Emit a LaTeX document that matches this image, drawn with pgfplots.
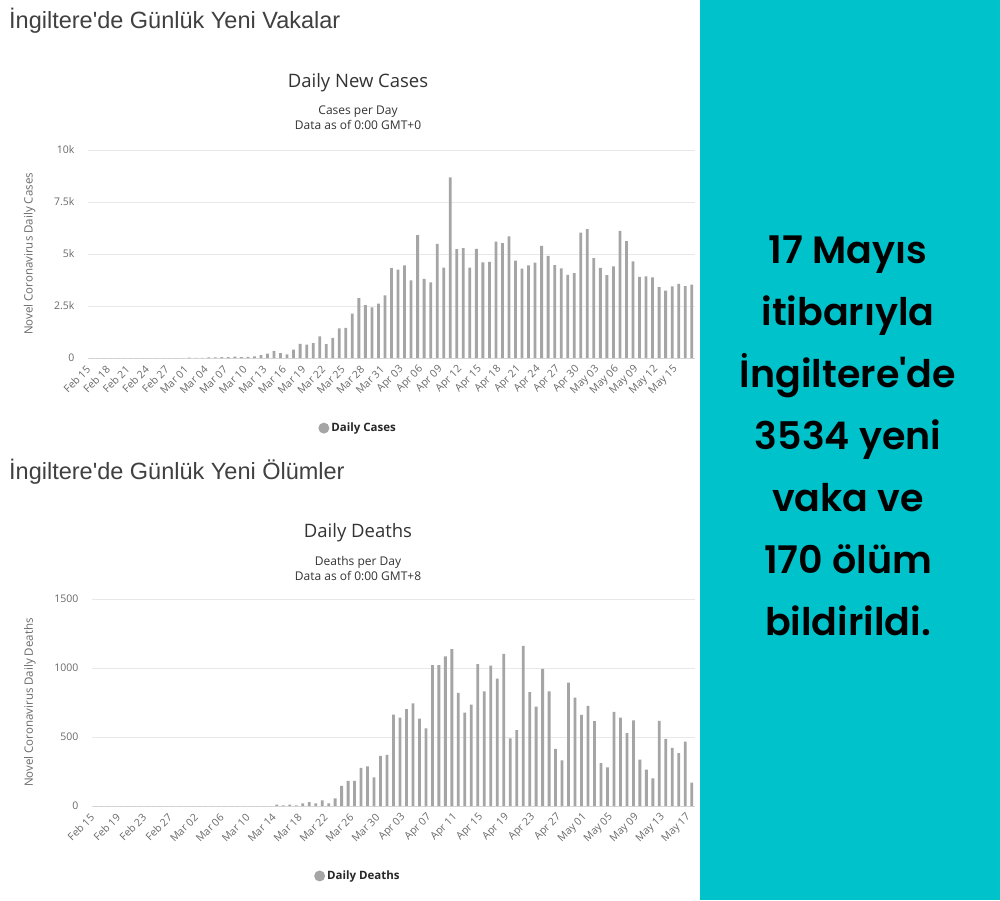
\documentclass[border=0pt]{standalone}
\usepackage{fontspec}
\usepackage{pgfplots}
\pgfplotsset{compat=1.18}
\setmainfont{Open Sans}
\newfontfamily\arialf{Liberation Sans}
\newfontfamily\panelf[UprightFont={* SemiBold}]{Poppins}
\definecolor{barcol}{RGB}{165,165,165}
\definecolor{gridcol}{RGB}{232,232,232}
\definecolor{axiscol}{RGB}{215,215,215}
\definecolor{tickcol}{RGB}{105,105,105}
\definecolor{titlecol}{RGB}{51,51,51}
\definecolor{bigtitle}{RGB}{64,64,64}
\definecolor{legcol}{RGB}{40,40,40}
\definecolor{tealbg}{RGB}{0,194,203}

\pgfplotsset{covstyle/.style={
  scale only axis, xmin=-0.5, xmax=92.5, ymin=0,
  scaled y ticks=false,
  axis x line*=bottom, axis y line*=left,
  y axis line style={draw=none},
  x axis line style={draw=axiscol, line width=0.8pt},
  major tick length=0pt,
  ymajorgrids, grid style={draw=gridcol, line width=0.8pt},
  tick label style={font=\fontsize{10.5}{12}\selectfont, text=tickcol},
  yticklabel style={xshift=-10pt},
  xticklabel style={xshift=-2pt, yshift=-9pt, rotate=45, anchor=east, inner sep=1pt},
  /pgf/number format/assume math mode=true,
  ylabel style={font=\fontsize{11.5}{13}\selectfont, text=tickcol, anchor=center},
  legend style={draw=none, fill=none, font=\bfseries\fontsize{11.5}{13}\selectfont,
    text=legcol, legend cell align=left, anchor=center},
}}

\begin{document}
\begin{tikzpicture}
\useasboundingbox (0pt,0pt) rectangle (1000pt,-900pt);
\fill[white] (0pt,0pt) rectangle (700pt,-900pt);
\fill[tealbg] (700pt,0pt) rectangle (1000pt,-900pt);

% left titles
\node[anchor=base west, font=\arialf\fontsize{23.5}{27}\selectfont, text=bigtitle, inner sep=0pt] at (9pt,-28pt) {İngiltere'de Günlük Yeni Vakalar};
\node[anchor=base west, font=\arialf\fontsize{23.5}{27}\selectfont, text=bigtitle, inner sep=0pt] at (9pt,-479pt) {İngiltere'de Günlük Yeni Ölümler};

\node[anchor=base, font=\fontsize{18.5}{21}\selectfont, text=titlecol, inner sep=0pt] at (358pt,-87pt) {Daily New Cases};
\node[anchor=base, font=\fontsize{12}{14}\selectfont, text=titlecol, inner sep=0pt] at (358pt,-114pt) {Cases per Day};
\node[anchor=base, font=\fontsize{12}{14}\selectfont, text=titlecol, inner sep=0pt] at (358pt,-129pt) {Data as of 0:00 GMT+0};

\node[anchor=base, font=\fontsize{18.5}{21}\selectfont, text=titlecol, inner sep=0pt] at (358pt,-537pt) {Daily Deaths};
\node[anchor=base, font=\fontsize{12}{14}\selectfont, text=titlecol, inner sep=0pt] at (358pt,-565pt) {Deaths per Day};
\node[anchor=base, font=\fontsize{12}{14}\selectfont, text=titlecol, inner sep=0pt] at (358pt,-580pt) {Data as of 0:00 GMT+8};

% right panel text
\foreach \t [count=\i from 0] in {17 Mayıs, itibarıyla, İngiltere'de, 3534 yeni, vaka ve, 170 ölüm, bildirildi.}{
  \node[anchor=base, font=\panelf\fontsize{38}{44}\selectfont, text=black, inner sep=0pt] at (848pt,-263pt-62pt*\i) {\t};
}

% top chart
\begin{axis}[covstyle, at={(88pt,-358pt)}, anchor=south west,
  width=607pt, height=208pt, ymax=10000,
  ytick={0,2500,5000,7500,10000}, yticklabels={0,2.5k,5k,7.5k,10k},
  xtick={0,3,...,90},
  xticklabels={Feb 15,Feb 18,Feb 21,Feb 24,Feb 27,Mar 01,Mar 04,Mar 07,Mar 10,Mar 13,Mar 16,Mar 19,Mar 22,Mar 25,Mar 28,Mar 31,Apr 03,Apr 06,Apr 09,Apr 12,Apr 15,Apr 18,Apr 21,Apr 24,Apr 27,Apr 30,May 03,May 06,May 09,May 12,May 15},
  ylabel={Novel Coronavirus Daily Cases},
  ylabel style={at={(axis description cs:-0.096,0.5)}},
  legend style={at={(axis description cs:0.445,-0.337)}},
]
\addplot[ybar, bar width=2.8pt, fill=barcol, draw=none,
  legend image code/.code={\fill[barcol] (0pt,0pt) circle (5.5pt);}]
coordinates {
(0,0)(1,0)(2,0)(3,0)(4,0)(5,0)(6,0)(7,0)(8,0)(9,0)(10,0)(11,0)(12,0)(13,0)(14,0)
(15,13)(16,4)(17,11)(18,34)(19,30)(20,48)(21,43)(22,67)(23,48)(24,52)
(25,83)(26,134)(27,208)(28,342)(29,232)(30,171)(31,407)(32,676)(33,643)(34,714)
(35,1035)(36,665)(37,967)(38,1427)(39,1452)(40,2129)(41,2885)(42,2546)(43,2433)(44,2619)
(45,3009)(46,4324)(47,4244)(48,4450)(49,3735)(50,5903)(51,3802)(52,3634)(53,5491)(54,4344)
(55,8681)(56,5233)(57,5288)(58,4342)(59,5252)(60,4603)(61,4617)(62,5599)(63,5525)(64,5850)
(65,4676)(66,4301)(67,4451)(68,4583)(69,5386)(70,4913)(71,4463)(72,4310)(73,3996)(74,4076)
(75,6032)(76,6201)(77,4806)(78,4339)(79,3985)(80,4406)(81,6111)(82,5614)(83,4649)(84,3896)
(85,3923)(86,3877)(87,3403)(88,3242)(89,3446)(90,3560)(91,3451)(92,3534)
};
\addlegendentry{Daily Cases}
\end{axis}

% bottom chart
\begin{axis}[covstyle, at={(92pt,-806pt)}, anchor=south west,
  width=603pt, height=207pt, ymax=1500,
  ytick={0,500,1000,1500}, yticklabels={0,500,1000,1500},
  xtick={0,4,...,92},
  xticklabels={Feb 15,Feb 19,Feb 23,Feb 27,Mar 02,Mar 06,Mar 10,Mar 14,Mar 18,Mar 22,Mar 26,Mar 30,Apr 03,Apr 07,Apr 11,Apr 15,Apr 19,Apr 23,Apr 27,May 01,May 05,May 09,May 13,May 17},
  ylabel={Novel Coronavirus Daily Deaths},
  ylabel style={at={(axis description cs:-0.103,0.5)}},
  legend style={at={(axis description cs:0.441,-0.338)}},
]
\addplot[ybar, bar width=2.8pt, fill=barcol, draw=none,
  legend image code/.code={\fill[barcol] (0pt,0pt) circle (5.5pt);}]
coordinates {
(0,0)(1,0)(2,0)(3,0)(4,0)(5,0)(6,0)(7,0)(8,0)(9,0)(10,0)(11,0)(12,0)(13,0)(14,0)
(15,0)(16,0)(17,0)(18,0)(19,0)(20,0)(21,0)(22,0)(23,0)(24,0)(25,0)(26,0)(27,0)
(28,10)(29,5)(30,10)(31,5)(32,19)(33,29)(34,19)(35,40)(36,19)(37,55)
(38,146)(39,182)(40,182)(41,277)(42,287)(43,208)(44,364)(45,371)(46,663)(47,641)
(48,703)(49,744)(50,634)(51,562)(52,1021)(53,1021)(54,1084)(55,1136)(56,820)(57,677)
(58,734)(59,1029)(60,830)(61,1017)(62,923)(63,1103)(64,490)(65,550)(66,1160)(67,825)
(68,720)(69,993)(70,830)(71,414)(72,330)(73,895)(74,785)(75,660)(76,725)(77,615)
(78,311)(79,280)(80,682)(81,641)(82,529)(83,620)(84,337)(85,263)(86,201)(87,617)
(88,486)(89,421)(90,383)(91,466)(92,170)
};
\addlegendentry{Daily Deaths}
\end{axis}
\end{tikzpicture}
\end{document}
